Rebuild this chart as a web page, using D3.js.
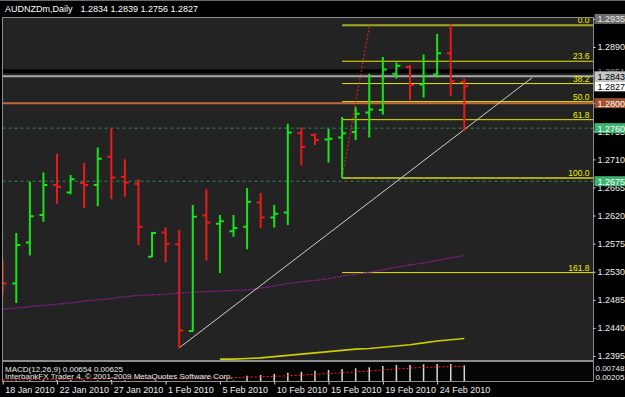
<!DOCTYPE html>
<html>
<head>
<meta charset="utf-8">
<script src="https://cdn.jsdelivr.net/npm/d3@7"></script>
<style>
  body { margin: 0; background: #000; }
  svg { display: block; font-family: "Liberation Sans", Arial, sans-serif; }
</style>
</head>
<body>
<div id="chart"></div>
<script>
// ---- data (AUDNZD daily) ----
const dates = ["2010-01-18","2010-01-19","2010-01-20","2010-01-21","2010-01-22","2010-01-24","2010-01-25",
  "2010-01-26","2010-01-27","2010-01-28","2010-01-29","2010-01-31","2010-02-01","2010-02-02","2010-02-03",
  "2010-02-04","2010-02-05","2010-02-07","2010-02-08","2010-02-09","2010-02-10","2010-02-11","2010-02-12",
  "2010-02-14","2010-02-15","2010-02-16","2010-02-17","2010-02-18","2010-02-19","2010-02-21","2010-02-22",
  "2010-02-23","2010-02-24","2010-02-25","2010-02-26"];
const opens  = [1.2541,1.2511,1.2577,1.2621,1.2669,1.2657,1.2672,1.2669,1.2714,1.2682,1.2671,1.2554,1.2593,1.2574,1.2435,1.2620,1.2607,1.2595,1.2602,1.2641,1.2617,1.2625,1.2752,1.2749,1.2742,1.2745,1.2754,1.2785,1.2789,1.2847,1.2858,1.2830,1.2846,1.2880,1.2834];
const highs  = [1.2549,1.2592,1.2674,1.2689,1.2719,1.2685,1.2704,1.2729,1.2760,1.2710,1.2678,1.2594,1.2601,1.2597,1.2637,1.2662,1.2621,1.2621,1.2664,1.2656,1.2637,1.2767,1.2761,1.2752,1.2759,1.2778,1.2794,1.2847,1.2874,1.2865,1.2861,1.2878,1.2911,1.2926,1.2839];
const lows   = [1.2493,1.2480,1.2556,1.2610,1.2639,1.2654,1.2632,1.2635,1.2646,1.2650,1.2573,1.2553,1.2545,1.2408,1.2434,1.2548,1.2528,1.2586,1.2566,1.2600,1.2601,1.2605,1.2700,1.2733,1.2705,1.2680,1.2741,1.2745,1.2782,1.2839,1.2805,1.2809,1.2841,1.2812,1.2756];
const closes = [1.2511,1.2573,1.2619,1.2669,1.2666,1.2678,1.2669,1.2711,1.2681,1.2673,1.2602,1.2592,1.2575,1.2436,1.2618,1.2609,1.2611,1.2600,1.2642,1.2617,1.2623,1.2753,1.2730,1.2741,1.2743,1.2752,1.2783,1.2790,1.2854,1.2860,1.2829,1.2843,1.2880,1.2835,1.2827];

// moving averages (purple over all bars, yellow starts at bar 16)
const purpleMA = [1.2470,1.2472,1.2474,1.2476,1.2478,1.2480,1.2483,1.2485,1.2487,1.2490,1.2492,1.2493,1.2494,1.2496,1.2497,1.2498,1.2499,1.2500,1.2501,1.2504,1.2507,1.2511,1.2514,1.2516,1.2519,1.2523,1.2526,1.2529,1.2533,1.2537,1.2541,1.2544,1.2548,1.2552,1.2556];
const yellowStart = 16;
const yellowMA = [1.2390,1.2390,1.2391,1.2392,1.2394,1.2396,1.2398,1.2400,1.2402,1.2404,1.2406,1.2407,1.2409,1.2411,1.2413,1.2416,1.2419,1.2421,1.2423];

// MACD(12,26,9): main (histogram) and signal
const macdMain = [0.0018,0.0017,0.0018,0.0019,0.0019,0.0019,0.0018,0.0018,0.0019,0.0018,0.0016,0.0012,0.0009,0.0004,0.0006,0.0009,0.0013,0.0017,0.00326,0.00349,0.00381,0.00422,0.00454,0.00486,0.00508,0.00540,0.00563,0.00595,0.00636,0.00668,0.00668,0.00690,0.00700,0.00700,0.00654];
const macdSignal = [0.00190,0.00195,0.00200,0.00206,0.00212,0.00218,0.00224,0.00230,0.00236,0.00240,0.00244,0.00246,0.00248,0.00248,0.00250,0.00254,0.00260,0.00268,0.00278,0.00290,0.00305,0.00322,0.00345,0.00370,0.00396,0.00422,0.00448,0.00476,0.00508,0.00540,0.00568,0.00590,0.00606,0.00617,0.00625];

const priceTicks = [1.2935,1.2890,1.2845,1.2800,1.2755,1.2710,1.2665,1.2620,1.2575,1.2530,1.2485,1.2440,1.2395];
const dateTickBars = [0,4,8,12,16,20,24,28,32];
const dateTickLabels = ["18 Jan 2010","22 Jan 2010","27 Jan 2010","1 Feb 2010","5 Feb 2010","10 Feb 2010","15 Feb 2010","19 Feb 2010","24 Feb 2010"];

const hLinePrices = [1.2851, 1.2843, 1.2800, 1.2760, 1.2675];
const boxLabelPrices = [1.2935, 1.2851, 1.2843, 1.2827, 1.2800, 1.2760, 1.2675];

const fibLevels = [0, 23.6, 38.2, 50, 61.8, 100, 161.8];
const fibHigh = 1.2925, fibLow = 1.2680, fibStartBar = 25;
const fibBase = [[25, 1.2680], [27, 1.2922]];
const trendPts = [[13, 1.2408], [39, 1.2841]];

const titleSymbol = "AUDNZDm,Daily";
const titleOHLC = "1.2834 1.2839 1.2756 1.2827";
const macdTitle = "MACD(12,26,9) 0.00654 0.00625";
const copyright = "InterbankFX Trader 4, \u00a9 2001-2009 MetaQuotes Software Corp.";
const macdAxis = [0.00748, 0.00205];

// ---- layout ----
const W = 625, H = 397;
const pLeft = 2.5, pRight = 593.5, pTop = 17.5, pBottom = 360.5;
const mTop = 361.5, mBottom = 381.5;

const svg = d3.select("#chart").append("svg").attr("width", W).attr("height", H);
svg.append("rect").attr("width", W).attr("height", H).attr("fill", "#000");

// scales
const x = d3.scaleLinear().domain([0, 34]).range([2.7, 464.3]);
const y = d3.scaleLinear().domain([1.2395, 1.2890]).range([356, 47]);
const my = d3.scaleLinear().domain([0.00205, 0.00748]).range([379.5, 362.5]);

// clips
const defs = svg.append("defs");
defs.append("clipPath").attr("id", "mainClip").append("rect")
  .attr("x", pLeft + 0.5).attr("y", pTop + 0.5).attr("width", pRight - pLeft - 1).attr("height", pBottom - pTop - 1);
defs.append("clipPath").attr("id", "macdClip").append("rect")
  .attr("x", pLeft + 0.5).attr("y", mTop + 0.5).attr("width", pRight - pLeft - 1).attr("height", mBottom - mTop - 1);

// main panel background
svg.append("rect").attr("x", pLeft).attr("y", pTop).attr("width", pRight - pLeft).attr("height", pBottom - pTop)
  .attr("fill", "#232323");

const main = svg.append("g").attr("clip-path", "url(#mainClip)");

// horizontal lines
const hStyle = [
  {c: "#000", w: 4, d: null},
  {c: "#a8a8a8", w: 2, d: null},
  {c: "#c0683a", w: 2, d: null},
  {c: "#2e8b57", w: 1, d: "3,3"},
  {c: "#2e8b57", w: 1, d: "3,3"}
];
main.selectAll(".hline").data(hLinePrices).enter().append("line")
  .attr("x1", pLeft).attr("x2", pRight)
  .attr("y1", d => y(d)).attr("y2", d => y(d))
  .attr("stroke", (d, i) => hStyle[i].c)
  .attr("stroke-width", (d, i) => hStyle[i].w)
  .attr("stroke-dasharray", (d, i) => hStyle[i].d);

// fibo levels
const fibPrice = l => fibHigh - (fibHigh - fibLow) * l / 100;
main.selectAll(".fib").data(fibLevels).enter().append("line")
  .attr("x1", x(fibStartBar)).attr("x2", pRight)
  .attr("y1", d => y(fibPrice(d))).attr("y2", d => y(fibPrice(d)))
  .attr("stroke", d => (d === 0 || d === 100) ? "#a6a620" : "#e8e800")
  .attr("stroke-width", d => (d === 0 || d === 100) ? 2 : 1);
main.selectAll(".fibtxt").data(fibLevels).enter().append("text")
  .attr("x", pRight - 4).attr("y", d => y(fibPrice(d)) - 2)
  .attr("text-anchor", "end").attr("font-size", 8.5).attr("fill", "#f0f000")
  .text(d => d.toFixed(1));

// moving averages
const line = d3.line().x(d => x(d[0])).y(d => y(d[1]));
main.append("path").attr("d", line(purpleMA.map((v, i) => [i, v])))
  .attr("fill", "none").attr("stroke", "#8e1e8e").attr("stroke-width", 1.3).attr("stroke-dasharray", "2,1");
main.append("path").attr("d", line(yellowMA.map((v, i) => [i + yellowStart, v])))
  .attr("fill", "none").attr("stroke", "#cccc00").attr("stroke-width", 1.6);

// trend line and fibo base line
main.append("path").attr("d", line(trendPts))
  .attr("fill", "none").attr("stroke", "#d0d0d0").attr("stroke-width", 1);
main.append("path").attr("d", line(fibBase))
  .attr("fill", "none").attr("stroke", "#ff2020").attr("stroke-width", 1).attr("stroke-dasharray", "2,2");

// OHLC bars
const bars = dates.map((d, i) => ({i: i, o: opens[i], h: highs[i], l: lows[i], c: closes[i]}));
main.selectAll(".bar").data(bars).enter().append("path")
  .attr("d", b => {
    const bx = x(b.i);
    return "M" + bx + "," + y(b.h) + "V" + y(b.l) +
      "M" + (bx - 4) + "," + y(b.o) + "H" + bx +
      "M" + bx + "," + y(b.c) + "H" + (bx + 4);
  })
  .attr("fill", "none")
  .attr("stroke", b => b.c >= b.o ? "#18e418" : "#ea1a1a")
  .attr("stroke-width", 2);

// borders of main panel
svg.append("rect").attr("x", pLeft).attr("y", pTop).attr("width", pRight - pLeft).attr("height", pBottom - pTop)
  .attr("fill", "none").attr("stroke", "#8c8c8c");
svg.append("line").attr("x1", 0).attr("x2", W).attr("y1", 0.5).attr("y2", 0.5).attr("stroke", "#6a6a6a");

// title
const tt = svg.append("text").attr("x", 5).attr("y", 12).attr("font-size", 9).attr("fill", "#fff");
tt.append("tspan").text(titleSymbol);
tt.append("tspan").attr("dx", 8).text(titleOHLC);

// price axis (labels that sit right under a price box are left out)
const hiddenUnderBox = d => boxLabelPrices.some(p => Math.abs(y(p) - y(d)) < 2);
const yAxis = d3.axisRight(y).tickValues(priceTicks).tickSize(2).tickPadding(2)
  .tickFormat(d => hiddenUnderBox(d) ? "" : d3.format(".4f")(d));
const ya = svg.append("g").attr("transform", "translate(" + pRight + ",0)").call(yAxis);
ya.select(".domain").remove();
ya.selectAll("line").attr("stroke", "#ddd");
ya.selectAll("text").attr("fill", "#eee").attr("font-size", 9).attr("font-family", "Liberation Sans, Arial, sans-serif");

// price boxes on the axis
const boxStyle = [
  {bg: "#6e6e6e", fg: "#e8e8e8"},
  {bg: "#000", fg: "#888"},
  {bg: "#c4c4c4", fg: "#000"},
  {bg: "#fff", fg: "#000"},
  {bg: "#a0522d", fg: "#fff"},
  {bg: "#3cb371", fg: "#fff"},
  {bg: "#3cb371", fg: "#fff"}
];
const boxes = svg.selectAll(".pbox").data(boxLabelPrices).enter().append("g")
  .attr("transform", d => "translate(" + (pRight + 1) + "," + y(d) + ")");
boxes.append("rect").attr("x", 0).attr("y", -5).attr("width", 31).attr("height", 10)
  .attr("fill", (d, i) => boxStyle[i].bg);
boxes.append("text").attr("x", 3).attr("y", 3.5).attr("font-size", 9)
  .attr("fill", (d, i) => boxStyle[i].fg).text(d => d.toFixed(4));

// ---- MACD window ----
svg.append("rect").attr("x", pLeft).attr("y", mTop).attr("width", pRight - pLeft).attr("height", mBottom - mTop)
  .attr("fill", "#050505").attr("stroke", "#8c8c8c");
const mg = svg.append("g").attr("clip-path", "url(#macdClip)");
mg.selectAll(".hist").data(macdMain).enter().append("line")
  .attr("x1", (d, i) => x(i)).attr("x2", (d, i) => x(i))
  .attr("y1", my(0)).attr("y2", d => my(d))
  .attr("stroke", "#d8d8d8").attr("stroke-width", 1.5);
mg.append("path").attr("d", d3.line().x((d, i) => x(i)).y(d => my(d))(macdSignal))
  .attr("fill", "none").attr("stroke", "#ff2020").attr("stroke-width", 1).attr("stroke-dasharray", "2,2");
svg.append("text").attr("x", 5).attr("y", 372).attr("font-size", 8).attr("fill", "#e8e8e8").text(macdTitle);
svg.append("text").attr("x", 5).attr("y", 379).attr("font-size", 8).attr("fill", "#e8e8e8").text(copyright);
svg.selectAll(".maxis").data(macdAxis).enter().append("text")
  .attr("x", pRight + 2).attr("y", (d, i) => i === 0 ? 371 : 380)
  .attr("font-size", 8).attr("fill", "#eee").text(d => d.toFixed(5));

// ---- date axis ----
const xAxis = d3.axisBottom(x).tickValues(dateTickBars).tickSize(3).tickPadding(2)
  .tickFormat((d, i) => dateTickLabels[i]);
const xa = svg.append("g").attr("transform", "translate(0," + mBottom + ")").call(xAxis);
xa.select(".domain").remove();
xa.selectAll("line").attr("stroke", "#ddd");
xa.selectAll("text").attr("fill", "#eee").attr("font-size", 9).attr("text-anchor", "start")
  .attr("dx", 2).attr("font-family", "Liberation Sans, Arial, sans-serif");
</script>
</body>
</html>
